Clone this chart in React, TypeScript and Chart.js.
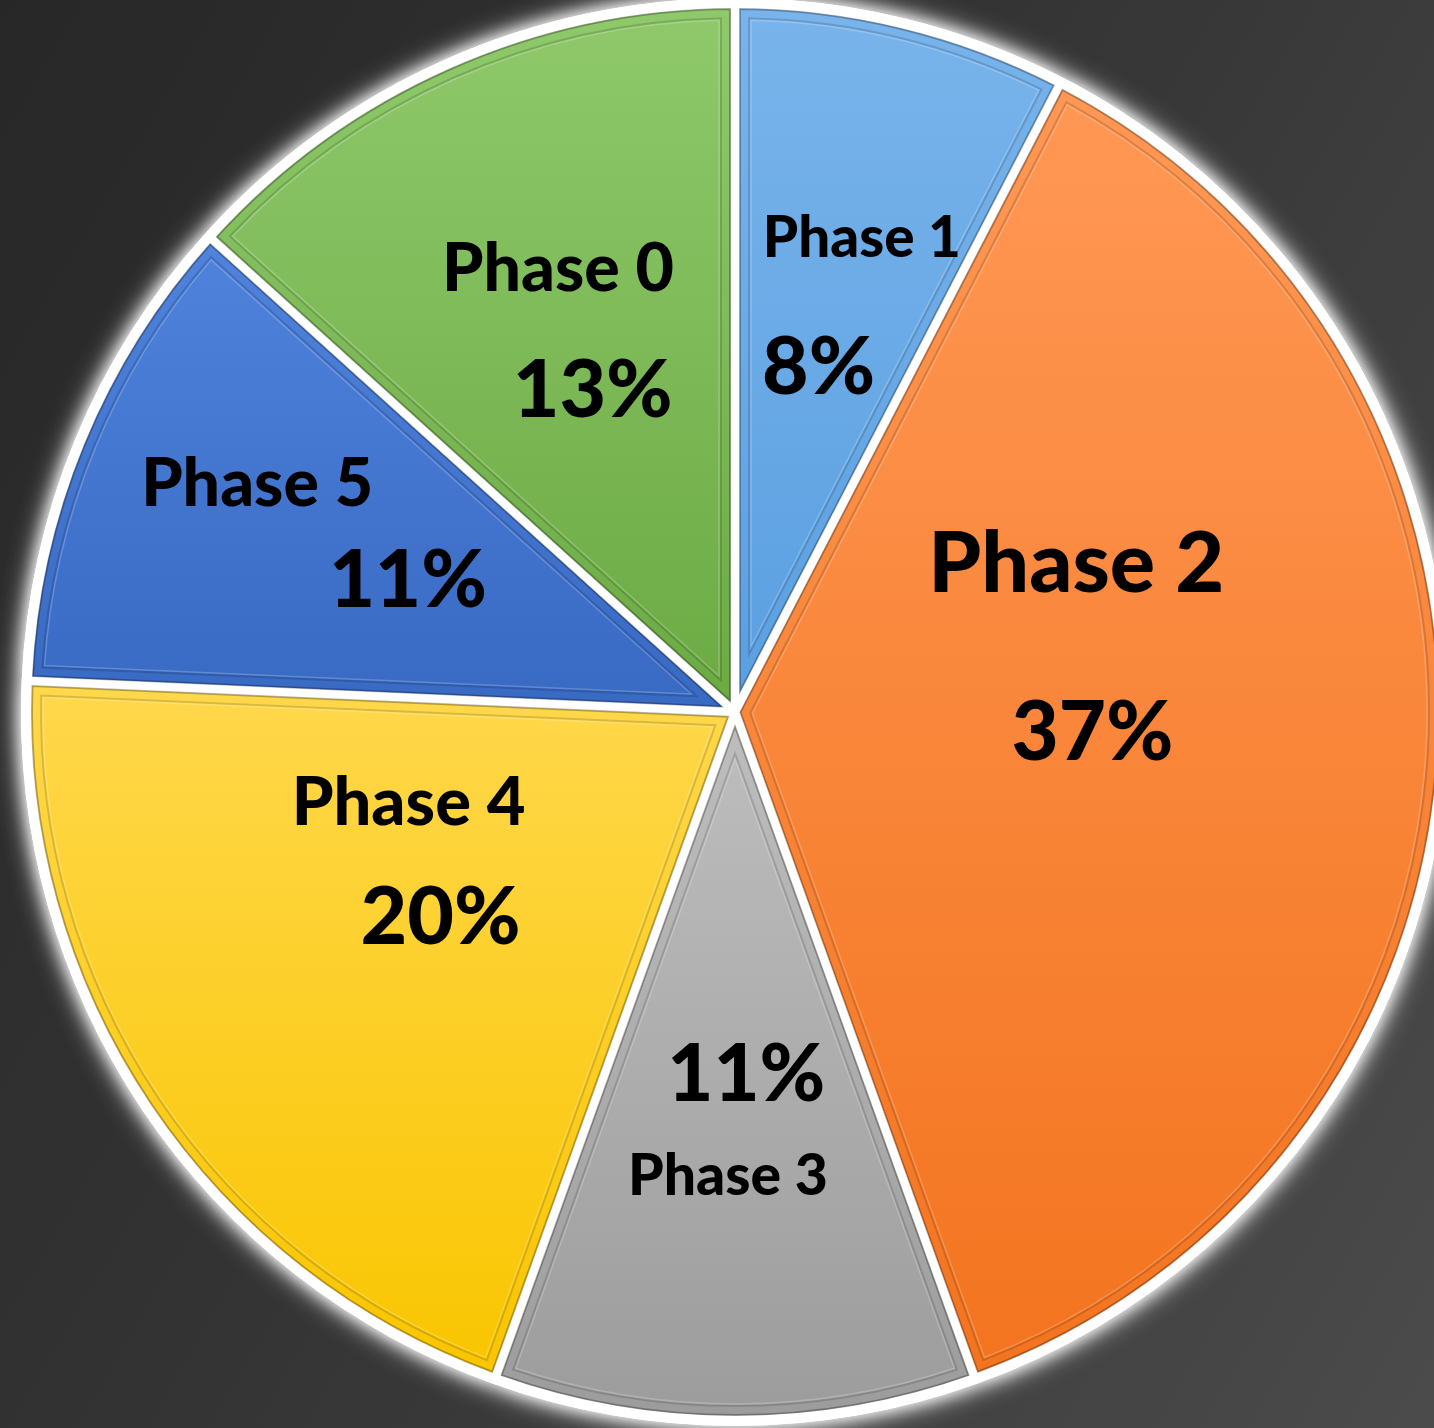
import React, { useEffect, useRef } from 'react';
import { Chart, registerables } from 'chart.js';

Chart.register(...registerables);

// ---- data ----
const categories = ['Phase 1', 'Phase 2', 'Phase 3', 'Phase 4', 'Phase 5', 'Phase 0'];
const values = [7.6, 36.9, 11.0, 20.2, 11.0, 13.3];
const percentLabels = ['8%', '37%', '11%', '20%', '11%', '13%'];

// ---- styles ----
const topColors = ['#79B4EB', '#FF9855', '#BEBEBE', '#FFD84C', '#4F83DC', '#8FC96B'];
const bottomColors = ['#5A9FE1', '#F3741F', '#9C9C9C', '#F9C500', '#3869C3', '#6BAA43'];
// label layout: offsets (fractions of radius from centre, text baseline) and target text widths
const labelLayout = [
  { name: [0.179, -0.643], pct: [0.118, -0.449], nameW: 198, pctW: 113 },
  { name: [0.482, -0.170], pct: [0.505, 0.068], nameW: 296, pctW: 162 },
  { name: [-0.010, 0.682], pct: [0.016, 0.550], nameW: 200, pctW: 158 },
  { name: [-0.461, 0.160], pct: [-0.416, 0.327], nameW: 234, pctW: 160 },
  { name: [-0.675, -0.291], pct: [-0.462, -0.148], nameW: 232, pctW: 158 },
  { name: [-0.250, -0.594], pct: [-0.201, -0.417], nameW: 232, pctW: 160 },
];

const W = 1434;
const H = 1428;
const RADIUS = 708;
const FONT = 'Lato, "Open Sans", "DejaVu Sans", sans-serif';

function sliceAngles(i: number): [number, number] {
  const total = values.reduce((a, b) => a + b, 0);
  let before = 0;
  for (let k = 0; k < i; k++) before += values[k];
  const a0 = -Math.PI / 2 + (before / total) * Math.PI * 2;
  const a1 = a0 + (values[i] / total) * Math.PI * 2;
  return [a0, a1];
}

function yExtent(cy: number, R: number, a0: number, a1: number): [number, number] {
  const ys = [cy, cy + R * Math.sin(a0), cy + R * Math.sin(a1)];
  for (const a of [-Math.PI / 2, Math.PI / 2, (3 * Math.PI) / 2]) {
    if (a >= a0 && a <= a1) ys.push(cy + R * Math.sin(a));
  }
  return [Math.min(...ys), Math.max(...ys)];
}

function insetPath(ctx: CanvasRenderingContext2D, x: number, y: number, a0: number, a1: number, R: number, d: number) {
  const h = (a1 - a0) / 2;
  const mid = (a0 + a1) / 2;
  const apexDist = d / Math.sin(h);
  const r = R - d;
  const dl = Math.asin(d / r);
  ctx.beginPath();
  ctx.moveTo(x + Math.cos(mid) * apexDist, y + Math.sin(mid) * apexDist);
  ctx.arc(x, y, r, a0 + dl, a1 - dl);
  ctx.closePath();
}

const glowPlugin = {
  id: 'glow',
  beforeDatasetsDraw(chart: any) {
    const meta = chart.getDatasetMeta(0);
    const ctx: CanvasRenderingContext2D = chart.ctx;
    ctx.save();
    ctx.shadowColor = 'rgba(255,255,255,1)';
    ctx.fillStyle = '#ffffff';
    for (const blur of [28, 16]) {
      ctx.shadowBlur = blur;
      meta.data.forEach((arc: any) => {
        const p = arc.getProps(['x', 'y', 'startAngle', 'endAngle', 'outerRadius'], true);
        ctx.beginPath();
        ctx.moveTo(p.x, p.y);
        ctx.arc(p.x, p.y, p.outerRadius + 6, p.startAngle, p.endAngle);
        ctx.closePath();
        ctx.fill();
      });
    }
    ctx.restore();
  },
};

const bevelPlugin = {
  id: 'bevel',
  afterDatasetsDraw(chart: any) {
    const meta = chart.getDatasetMeta(0);
    const ctx: CanvasRenderingContext2D = chart.ctx;
    ctx.save();
    meta.data.forEach((arc: any) => {
      const p = arc.getProps(['x', 'y', 'startAngle', 'endAngle', 'outerRadius'], true);
      insetPath(ctx, p.x, p.y, p.startAngle, p.endAngle, p.outerRadius, 5);
      ctx.lineWidth = 2;
      ctx.strokeStyle = 'rgba(0,0,0,0.28)';
      ctx.stroke();
      insetPath(ctx, p.x, p.y, p.startAngle, p.endAngle, p.outerRadius, 14);
      ctx.lineWidth = 2;
      ctx.strokeStyle = 'rgba(0,0,0,0.14)';
      ctx.stroke();
      insetPath(ctx, p.x, p.y, p.startAngle, p.endAngle, p.outerRadius, 16);
      ctx.lineWidth = 1.5;
      ctx.strokeStyle = 'rgba(255,255,255,0.2)';
      ctx.stroke();
    });
    ctx.restore();
  },
};

function drawFitted(ctx: CanvasRenderingContext2D, text: string, x: number, y: number, width: number) {
  ctx.font = `900 100px ${FONT}`;
  const w = ctx.measureText(text).width;
  const size = (100 * width) / w;
  ctx.font = `900 ${size}px ${FONT}`;
  ctx.fillText(text, x, y);
}

const labelPlugin = {
  id: 'sliceLabels',
  afterDraw(chart: any) {
    const meta = chart.getDatasetMeta(0);
    const ctx: CanvasRenderingContext2D = chart.ctx;
    ctx.save();
    ctx.fillStyle = '#000000';
    ctx.textAlign = 'center';
    ctx.textBaseline = 'alphabetic';
    meta.data.forEach((arc: any, i: number) => {
      const p = arc.getProps(['x', 'y', 'outerRadius'], true);
      const L = labelLayout[i];
      drawFitted(ctx, categories[i], p.x + L.name[0] * p.outerRadius, p.y + L.name[1] * p.outerRadius, L.nameW);
      drawFitted(ctx, percentLabels[i], p.x + L.pct[0] * p.outerRadius, p.y + L.pct[1] * p.outerRadius, L.pctW);
    });
    ctx.restore();
  },
};

export default function App() {
  const canvasRef = useRef<HTMLCanvasElement | null>(null);

  useEffect(() => {
    document.body.style.margin = '0';
    const canvas = canvasRef.current;
    if (!canvas) return;
    const chart = new Chart(canvas, {
      type: 'pie',
      data: {
        labels: categories,
        datasets: [
          {
            data: values,
            backgroundColor: (c: any) => {
              const i = c.dataIndex;
              const area = c.chart.chartArea;
              if (!area || i === undefined) return bottomColors[i ?? 0];
              const cy = (area.top + area.bottom) / 2;
              const [a0, a1] = sliceAngles(i);
              const [y0, y1] = yExtent(cy, RADIUS, a0, a1);
              const g = c.chart.ctx.createLinearGradient(0, y0, 0, y1);
              g.addColorStop(0, topColors[i]);
              g.addColorStop(1, bottomColors[i]);
              return g;
            },
            borderColor: '#ffffff',
            borderWidth: 9,
            offset: 0,
          },
        ],
      },
      options: {
        responsive: false,
        maintainAspectRatio: false,
        animation: false,
        devicePixelRatio: 1,
        radius: RADIUS,
        layout: { padding: { left: 36, right: 0, top: 0, bottom: 4 } },
        plugins: {
          legend: { display: false },
          tooltip: { enabled: false },
        },
      } as any,
      plugins: [glowPlugin, bevelPlugin, labelPlugin],
    });
    return () => chart.destroy();
  }, []);

  return (
    <div
      style={{
        position: 'fixed',
        left: 0,
        top: 0,
        width: W,
        height: H,
        overflow: 'hidden',
        background: 'linear-gradient(120deg, #272727 0%, #343434 45%, #4b4b4b 100%)',
      }}
    >
      <canvas ref={canvasRef} width={W} height={H} style={{ width: W, height: H, display: 'block' }} />
    </div>
  );
}
